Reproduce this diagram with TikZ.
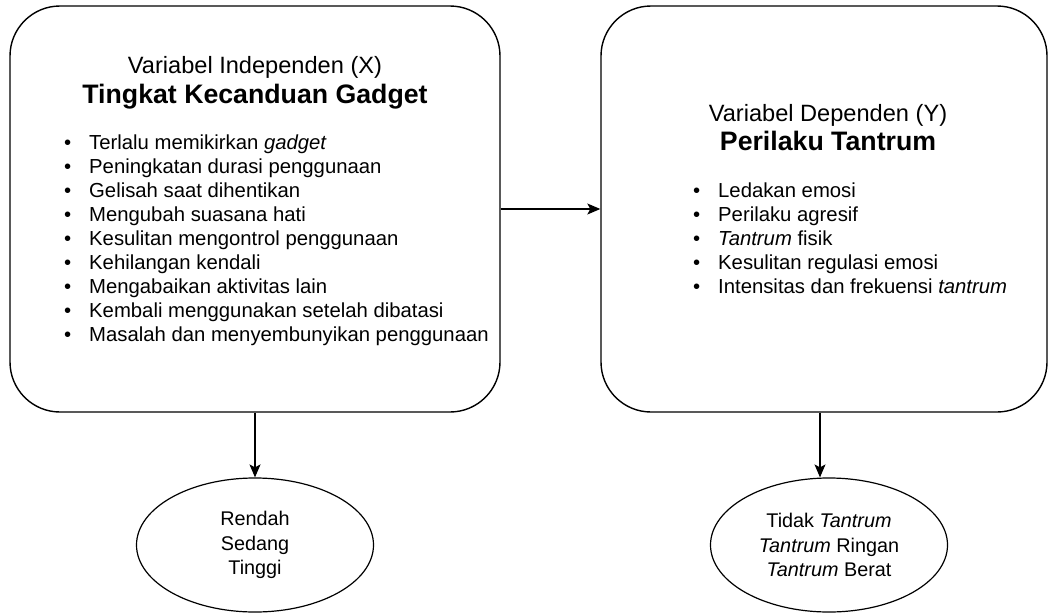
\documentclass[tikz,border=0pt]{standalone}
\usepackage{fontspec}
\setmainfont{Liberation Sans}
\usetikzlibrary{arrows.meta,shapes.geometric}

\begin{document}
\begin{tikzpicture}[x=1pt,y=-1pt,
    varbox/.style={draw,line width=1.4pt,rounded corners=50pt,inner sep=0pt,minimum height=406pt},
    levels/.style={draw,ellipse,line width=1.2pt,inner sep=0pt,minimum width=237pt,minimum height=134pt,
      align=center,font=\fontsize{19.8}{24.5}\selectfont},
    arr/.style={line width=1.2pt,-{Stealth[length=13pt,width=11pt,inset=3pt]}},
    vartitle/.style={anchor=base,inner sep=0pt,font=\fontsize{23.6}{28}\selectfont},
    varname/.style={anchor=base,inner sep=0pt,font=\fontsize{26.7}{32}\bfseries\selectfont},
    item/.style={anchor=base west,inner sep=0pt,font=\fontsize{20.3}{24}\selectfont}]
  \useasboundingbox (0,0) rectangle (1049,613);

  % variabel X
  \node[varbox,minimum width=490pt] (X) at (255,209) {};
  \node[vartitle] (Xt) at (255,73) {Variabel Independen (X)};
  \node[varname] (Xn) at (255,103) {Tingkat Kecanduan Gadget};
  \foreach \t [count=\i] in {Terlalu memikirkan \textit{gadget},
      Peningkatan durasi penggunaan, Gelisah saat dihentikan,
      Mengubah suasana hati, Kesulitan mengontrol penggunaan,
      Kehilangan kendali, Mengabaikan aktivitas lain,
      Kembali menggunakan setelah dibatasi,
      Masalah dan menyembunyikan penggunaan}
    \node[item] (Xi\i) at (64,149+24.1*\i-24.1) {\makebox[25pt][l]{\textbullet}\t};

  % variabel Y
  \node[varbox,minimum width=446pt] (Y) at (824,209) {};
  \node[vartitle] (Yt) at (828,121) {Variabel Dependen (Y)};
  \node[varname] (Yn) at (828,150) {Perilaku Tantrum};
  \foreach \t [count=\i] in {Ledakan emosi, Perilaku agresif,
      \textit{Tantrum} fisik, Kesulitan regulasi emosi,
      Intensitas dan frekuensi \textit{tantrum}}
    \node[item] (Yi\i) at (693,197+24*\i-24) {\makebox[25pt][l]{\textbullet}\t};

  % kategori
  \node[levels] (Xk) at (255,545) {Rendah\\Sedang\\Tinggi};
  \node[levels] (Yk) at (829,545) {Tidak \textit{Tantrum}\\\textit{Tantrum} Ringan\\\textit{Tantrum} Berat};

  \draw[arr] (X.east) -- (Y.west);
  \draw[arr] (X.south) -- (Xk.north);
  \draw[arr] ([xshift=-4pt]Y.south) -- ([xshift=-4pt]Y.south |- Yk.north);
\end{tikzpicture}
\end{document}
